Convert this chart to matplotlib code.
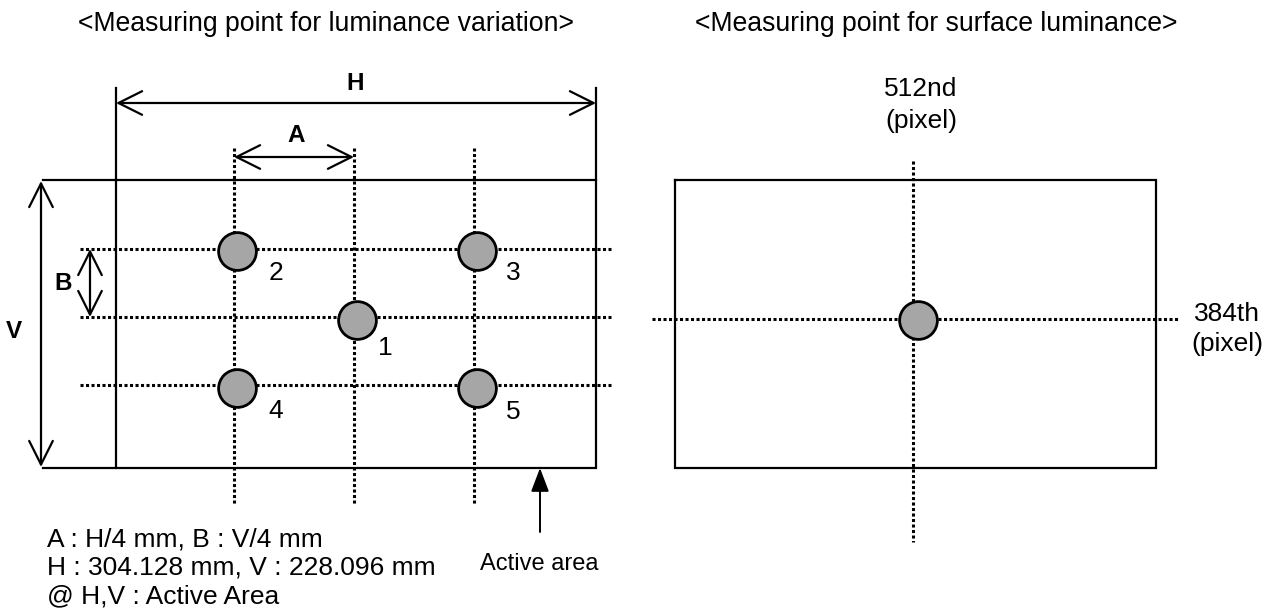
import matplotlib.pyplot as plt

plt.rcParams["font.family"] = ["Liberation Sans", "DejaVu Sans"]

# canvas in pixel units (y down)
W, Hpx = 1281, 615

# left panel geometry
rect_left = (116, 180, 596, 468)       # x0, y0, x1, y1
grid_x = [234, 354, 474]
grid_y = [249, 317, 385]
pt_x = [357, 237, 477, 237, 477]
pt_y = [320, 251, 251, 388, 388]
pt_labels = ["1", "2", "3", "4", "5"]
lab_x = [385, 276, 513, 276, 513]
lab_y = [348, 273, 273, 411, 412]

# right panel geometry
rect_right = (675, 180, 1156, 468)
center_x, center_y = 913, 319
center_pt = (918, 320)

notes = ["A : H/4 mm, B : V/4 mm",
         "H : 304.128 mm, V : 228.096 mm",
         "@ H,V : Active Area"]

fig = plt.figure(figsize=(12.81, 6.15), dpi=100)
ax = fig.add_axes([0, 0, 1, 1])
ax.set_xlim(0, W)
ax.set_ylim(Hpx, 0)
ax.axis("off")

lw = 1.6
dot = dict(color="black", lw=2.2, linestyle=(0, (1, 0.8)))
fs = 19
fsb = 17.5


def rect(r):
    x0, y0, x1, y1 = r
    ax.plot([x0, x1, x1, x0, x0], [y0, y0, y1, y1, y0], color="black", lw=lw,
            solid_joinstyle="miter")


def dim_arrow(x0, y0, x1, y1):
    ax.annotate("", xy=(x1, y1), xytext=(x0, y0),
                arrowprops=dict(arrowstyle="<->,head_length=1.7,head_width=0.85",
                                mutation_scale=10, lw=lw, color="black",
                                shrinkA=0, shrinkB=0))


# titles
ax.text(326, 24, "<Measuring point for luminance variation>", fontsize=19.2,
        ha="center", va="center")
ax.text(936, 24, "<Measuring point for surface luminance>", fontsize=19.2,
        ha="center", va="center")

# ---- left panel ----
for gx in grid_x:
    ax.plot([gx, gx], [148, 504], **dot)
for gy in grid_y:
    ax.plot([80, 611], [gy, gy], **dot)
rect(rect_left)

# extension lines
ax.plot([116, 116], [88, 180], color="black", lw=lw)
ax.plot([596, 596], [88, 180], color="black", lw=lw)
ax.plot([43, 116], [180, 180], color="black", lw=lw)
ax.plot([43, 116], [468, 468], color="black", lw=lw)

dim_arrow(116, 103, 596, 103)
dim_arrow(234, 157, 354, 157)
dim_arrow(41, 181, 41, 467)
dim_arrow(90, 249, 90, 317)

ax.text(355, 84, "H", fontsize=fsb, fontweight="bold", ha="center", va="center")
ax.text(296, 135, "A", fontsize=fsb, fontweight="bold", ha="center", va="center")
ax.text(14, 332, "V", fontsize=fsb, fontweight="bold", ha="center", va="center")
ax.text(63, 284, "B", fontsize=fsb, fontweight="bold", ha="center", va="center")

ax.scatter(pt_x, pt_y, s=740, facecolor="#a6a6a6", edgecolor="black",
           linewidths=2, zorder=5)
for t, x, y in zip(pt_labels, lab_x, lab_y):
    ax.text(x, y, t, fontsize=fs, ha="center", va="center")

# active area pointer
ax.annotate("", xy=(540, 468), xytext=(540, 532),
            arrowprops=dict(arrowstyle="-|>,head_length=1.45,head_width=0.55",
                            mutation_scale=10, lw=1.4, color="black",
                            shrinkA=0, shrinkB=0))
ax.text(539, 564, "Active area", fontsize=17, ha="center", va="center")

for i, t in enumerate(notes):
    ax.text(47, 539 + 28.5 * i, t, fontsize=fs, ha="left", va="center")

# ---- right panel ----
ax.plot([center_x, center_x], [161, 542], **dot)
ax.plot([652, 1178], [center_y, center_y], **dot)
rect(rect_right)
ax.scatter([center_pt[0]], [center_pt[1]], s=740, facecolor="#a6a6a6",
           edgecolor="black", linewidths=2, zorder=5)
ax.text(921, 89, "512nd", fontsize=fs, ha="center", va="center")
ax.text(921, 121, "(pixel)", fontsize=fs, ha="center", va="center")
ax.text(1227, 314, "384th", fontsize=fs, ha="center", va="center")
ax.text(1227, 344, "(pixel)", fontsize=fs, ha="center", va="center")

fig.savefig("out.png", dpi=100)
